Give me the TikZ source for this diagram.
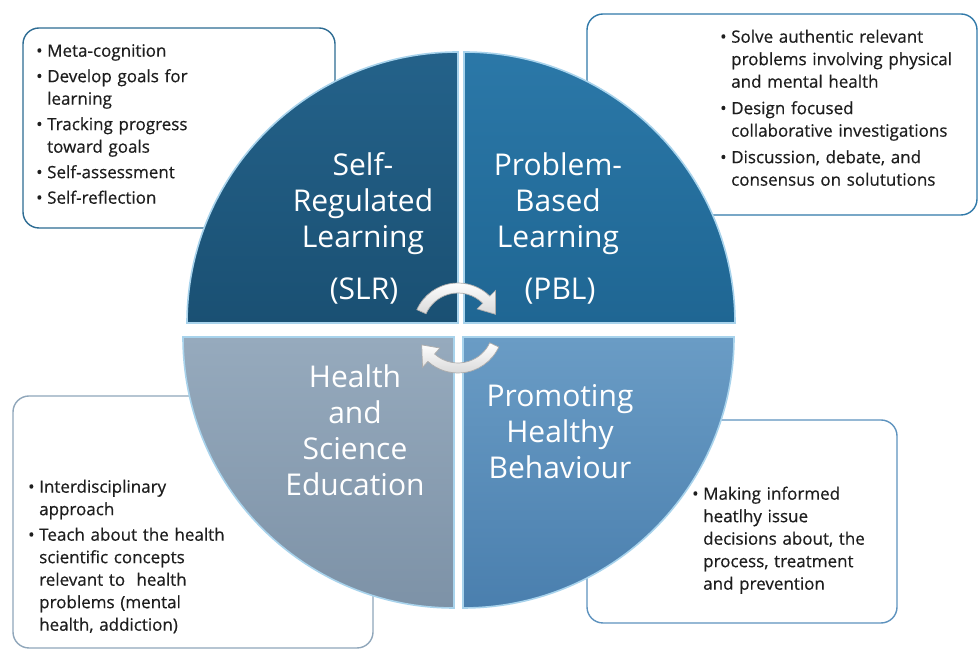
\documentclass[tikz,border=0pt]{standalone}
\usepackage{fontspec}
\setmainfont{Open Sans}
\newfontfamily\listfont[FakeBold=0.5]{Open Sans}
\usetikzlibrary{calc}

\definecolor{tlTop}{HTML}{24628A}
\definecolor{tlBot}{HTML}{1A5073}
\definecolor{trTop}{HTML}{2B78A8}
\definecolor{trBot}{HTML}{1F6693}
\definecolor{blTop}{HTML}{96AABD}
\definecolor{blBot}{HTML}{7D92A7}
\definecolor{brTop}{HTML}{6A9CC5}
\definecolor{brBot}{HTML}{4A7FAE}
\definecolor{edgeLight}{HTML}{A8D3EC}
\definecolor{boxA}{HTML}{2C6B92}
\definecolor{boxB}{HTML}{3079A9}
\definecolor{boxC}{HTML}{8FA6BA}
\definecolor{boxD}{HTML}{5D92BE}
\definecolor{bodyText}{HTML}{1E1E1E}

% bullet item with hanging indent; \nl breaks a line inside an item
\newcommand\bitem[1]{\par\hangindent=11pt\hangafter=1\noindent\makebox[11pt][l]{\textbullet}#1}
\newcommand\nl{\hfil\break}

\begin{document}
\begin{tikzpicture}[x=1pt,y=1pt,
  infobox/.style={rounded corners=16pt, fill=white, line width=1.4pt},
  quad/.style={draw=edgeLight, line width=1.6pt},
  qlabel/.style={align=center, text=white, font=\fontsize{30}{36}\selectfont, inner sep=0pt},
  btext/.style={anchor=north west, inner sep=0pt, text width=262pt,
                text=bodyText, font=\listfont\fontsize{17}{22.5}\selectfont},
  cycarrow/.style={top color=white, bottom color=gray!30, draw=gray!65, line width=0.7pt}
]
\useasboundingbox (0,0) rectangle (979,652);

% text boxes behind the circle
\draw[infobox, draw=boxA] (23,424) rectangle (335,624);
\draw[infobox, draw=boxB] (587,437) rectangle (977,638);
\draw[infobox, draw=boxC] (13,4) rectangle (373,256);
\draw[infobox, draw=boxD] (587,29) rectangle (897,232);

% four quadrants of the circle
\draw[quad, top color=tlTop, bottom color=tlBot]
  (458,329) -- (187,329) arc[start angle=180, end angle=90, radius=271] -- cycle;
\draw[quad, top color=trTop, bottom color=trBot]
  (464,329) -- (464,600) arc[start angle=90, end angle=0, radius=271] -- cycle;
\draw[quad, top color=blTop, bottom color=blBot]
  (454,315) -- (183,315) arc[start angle=180, end angle=270, radius=271] -- cycle;
\draw[quad, top color=brTop, bottom color=brBot]
  (463,315) -- (734,315) arc[start angle=0, end angle=-90, radius=271] -- cycle;

% cycle arrows in the middle
\coordinate (cyc) at (458,324);
\path[cycarrow] ($(cyc)+(156:45)$) arc[start angle=156, end angle=45, radius=45]
  -- ($(cyc)+(45:53)$) -- ($(cyc)+(20:40)$) -- ($(cyc)+(45:27)$)
  -- ($(cyc)+(45:35)$) arc[start angle=45, end angle=156, radius=35] -- cycle;
\path[cycarrow] ($(cyc)+(-25:45)$) arc[start angle=-25, end angle=-132, radius=45]
  -- ($(cyc)+(-132:53)$) -- ($(cyc)+(-155:40)$) -- ($(cyc)+(-132:27)$)
  -- ($(cyc)+(-132:35)$) arc[start angle=-132, end angle=-25, radius=35] -- cycle;

% quadrant labels
\node[qlabel] (slr) at (363,448) {Self-\\Regulated\\Learning};
\node[qlabel] (slrAbbr) at (364,361) {(SLR)};
\node[qlabel] (pbl) at (558,448) {Problem-\\Based\\Learning};
\node[qlabel] (pblAbbr) at (560,361) {(PBL)};
\node[qlabel] (hse) at (355,222) {Health\\and\\Science\\Education};
\node[qlabel] (phb) at (560,220) {Promoting\\Healthy\\Behaviour};

% bullet lists
\node[btext] (listA) at (36,621) {\setlength{\parskip}{3pt}%
  \bitem{Meta-cognition}
  \bitem{Develop goals for\nl learning}
  \bitem{Tracking progress\nl toward goals}
  \bitem{Self-assessment}
  \bitem{Self-reflection}\par};
\node[btext] (listB) at (720,636) {\setlength{\parskip}{4pt}%
  \bitem{Solve authentic relevant\nl problems involving physical\nl and mental health}
  \bitem{Design focused\nl collaborative investigations}
  \bitem{Discussion, debate, and\nl consensus on solututions}\par};
\node[btext] (listC) at (28,185) {\setlength{\parskip}{3pt}%
  \bitem{Interdisciplinary\nl approach}
  \bitem{Teach about the health\nl scientific concepts\nl relevant to\ \ health\nl problems (mental\nl health, addiction)}\par};
\node[btext] (listD) at (692,178) {\setlength{\parskip}{3pt}%
  \bitem{Making informed\nl heatlhy issue\nl decisions about, the\nl process, treatment\nl and prevention}\par};
\end{tikzpicture}
\end{document}
